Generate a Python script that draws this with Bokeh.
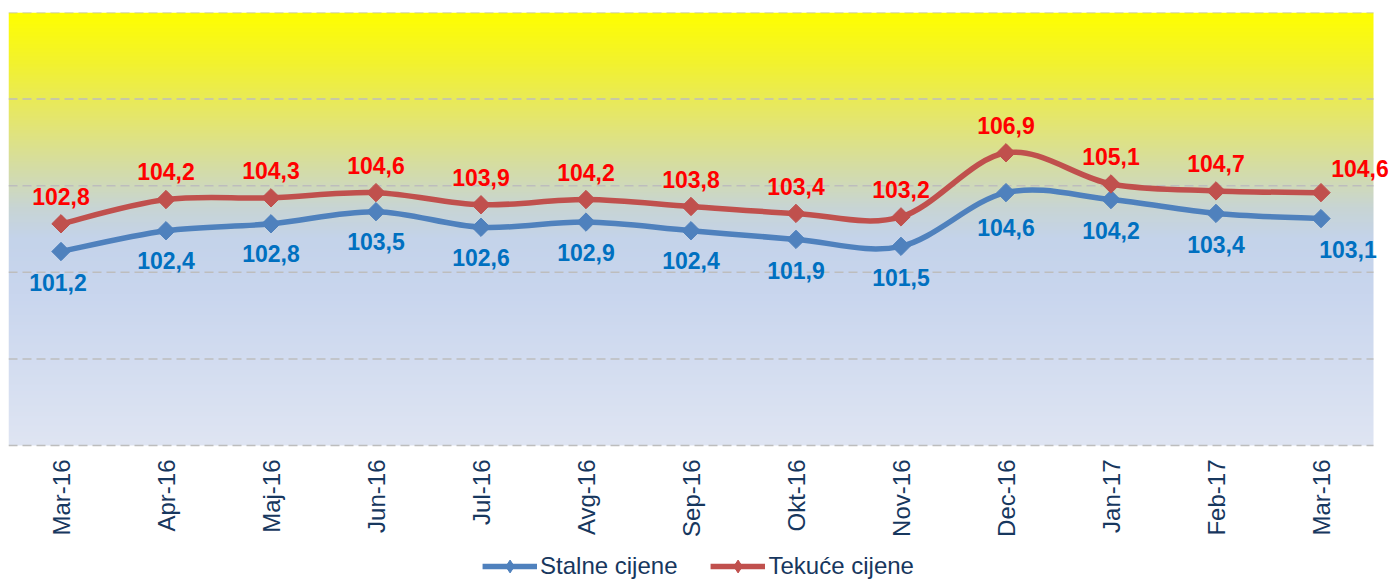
import numpy as np
from bokeh.plotting import figure
from bokeh.models import (ColumnDataSource, LabelSet, Legend, LegendItem,
                          FixedTicker, Range1d)
from bokeh.core.properties import value
from bokeh.embed import file_html
from bokeh.resources import INLINE

# ---------------- data ----------------
months = ["Mar-16", "Apr-16", "Maj-16", "Jun-16", "Jul-16", "Avg-16", "Sep-16",
          "Okt-16", "Nov-16", "Dec-16", "Jan-17", "Feb-17", "Mar-16"]
stalne = [101.2, 102.4, 102.8, 103.5, 102.6, 102.9, 102.4, 101.9, 101.5,
          104.6, 104.2, 103.4, 103.1]
tekuce = [102.8, 104.2, 104.3, 104.6, 103.9, 104.2, 103.8, 103.4, 103.2,
          106.9, 105.1, 104.7, 104.6]
y_ticks = [90, 95, 100, 105, 110, 115]

# ---------------- style ----------------
FONT = "Liberation Sans"
BLUE = "#4F81BD"
RED = "#C0504D"
BLUE_TXT = "#0070C0"
RED_TXT = "#FF0000"
NAVY = "#17375E"

xs = np.arange(len(months), dtype=float)
n_cat = len(months)
y_lo, y_hi = min(y_ticks), max(y_ticks)

# layout in pixels
band_px = 105.0          # width of one category band
plot_px = 433.0          # height of the shaded plot area
below_px = 137.0         # room for month labels and legend under it
frame_w = 1380

p = figure(width=1390, height=582,
           x_range=Range1d(-0.5, -0.5 + frame_w / band_px),
           y_range=Range1d(y_lo - below_px * (y_hi - y_lo) / plot_px, y_hi),
           output_backend="svg", toolbar_location=None,
           y_axis_location=None,
           min_border_left=8, min_border_right=2, min_border_top=12,
           min_border_bottom=0)
p.outline_line_color = None
p.background_fill_color = "white"
p.border_fill_color = "white"

# gradient background
stops = [(0.00, (255, 255, 0)), (0.12, (242, 242, 48)), (0.25, (228, 230, 112)),
         (0.38, (210, 219, 176)), (0.45, (200, 213, 212)), (0.52, (196, 211, 234)),
         (0.65, (201, 214, 238)), (1.00, (223, 229, 243))]
N = int(plot_px)
t = 1.0 - (np.arange(N) + 0.5) / N  # row 0 is bottom
ts = [s[0] for s in stops]
img = np.zeros((N, 1), dtype=np.uint32)
view = img.view(dtype=np.uint8).reshape((N, 1, 4))
for c in range(3):
    view[:, 0, c] = np.interp(t, ts, [s[1][c] for s in stops]).astype(np.uint8)
view[:, 0, 3] = 255
bg = p.image_rgba(image=[img], x=-0.5, y=y_lo, dw=n_cat, dh=y_hi - y_lo)
bg.level = "image"

# grid (drawn as segments limited to the category span)
p.xgrid.grid_line_color = None
p.ygrid.grid_line_color = None
grid = p.segment(x0=[-0.5] * len(y_ticks), x1=[n_cat - 0.5] * len(y_ticks),
                 y0=y_ticks, y1=y_ticks, line_color="#BDBDBD",
                 line_dash="9 5", line_width=1.5)
grid.level = "underlay"

# x axis, pinned to the bottom of the shaded area
xa = p.xaxis[0]
xa.fixed_location = y_lo
xa.ticker = FixedTicker(ticks=list(range(n_cat)))
xa.major_label_overrides = {i: m for i, m in enumerate(months)}
xa.major_label_orientation = np.pi / 2
xa.axis_line_color = None
xa.major_tick_line_color = None
xa.minor_tick_line_color = None
xa.major_tick_out = 0
xa.major_tick_in = 0
xa.major_label_text_font = FONT
xa.major_label_text_font_size = "24px"
xa.major_label_text_color = NAVY
xa.major_label_standoff = 14


def smooth(xv, yv):
    P = np.column_stack([xv, yv])
    n = len(P)
    seg = {k: [] for k in ["x0", "y0", "x1", "y1", "cx0", "cy0", "cx1", "cy1"]}
    for i in range(n - 1):
        p0 = P[i - 1] if i > 0 else P[i]
        p1 = P[i]
        p2 = P[i + 1]
        p3 = P[i + 2] if i + 2 < n else P[i + 1]
        c1 = p1 + (p2 - p0) / 6.0
        c2 = p2 - (p3 - p1) / 6.0
        seg["x0"].append(p1[0]); seg["y0"].append(p1[1])
        seg["x1"].append(p2[0]); seg["y1"].append(p2[1])
        seg["cx0"].append(c1[0]); seg["cy0"].append(c1[1])
        seg["cx1"].append(c2[0]); seg["cy1"].append(c2[1])
    return ColumnDataSource(seg)


def fmt(v):
    return f"{v:.1f}".replace(".", ",")


for series, color in [(stalne, BLUE), (tekuce, RED)]:
    p.bezier(x0="x0", y0="y0", x1="x1", y1="y1", cx0="cx0", cy0="cy0",
             cx1="cx1", cy1="cy1", source=smooth(xs, np.array(series)),
             line_color=color, line_width=5.5, line_cap="round")
    p.scatter(xs, series, marker="square", angle=np.pi / 4, size=13,
              fill_color=color, line_color=color)

# data labels
blue_xo = [-3, 0, 0, 0, 0, 0, 0, 0, 0, 0, 0, 0, 27]
blue_yo = [-31, -30, -30, -30, -30, -30, -30, -31, -31, -35, -31, -31, -31]
red_xo = [0, 0, 0, 0, 0, 0, 0, 0, 0, 0, 0, 0, 39]
red_yo = [27, 28, 27, 27, 27, 27, 27, 27, 27, 27, 27, 27, 24]

for series, xo, yo, col in [(stalne, blue_xo, blue_yo, BLUE_TXT),
                            (tekuce, red_xo, red_yo, RED_TXT)]:
    src = ColumnDataSource(dict(x=xs, y=series, text=[fmt(v) for v in series],
                                xo=xo, yo=yo))
    p.add_layout(LabelSet(x="x", y="y", text="text", x_offset="xo", y_offset="yo",
                          source=src, text_align="center", text_baseline="middle",
                          text_font=value(FONT), text_font_size="23px",
                          text_font_style="bold", text_color=col))

# legend (dummy renderers)
nan = [np.nan]
lb = p.line(nan, nan, line_color=BLUE, line_width=5.5)
mb = p.scatter(nan, nan, marker="diamond", size=16,
               fill_color=BLUE, line_color=BLUE)
lr = p.line(nan, nan, line_color=RED, line_width=5.5)
mr = p.scatter(nan, nan, marker="diamond", size=16,
               fill_color=RED, line_color=RED)
legend = Legend(items=[LegendItem(label="Stalne cijene", renderers=[lb, mb]),
                       LegendItem(label="Tekuće cijene", renderers=[lr, mr])],
                orientation="horizontal", location="bottom_center",
                border_line_color=None, background_fill_alpha=0,
                label_text_font=FONT, label_text_font_size="24px",
                label_text_color=NAVY, glyph_width=55, glyph_height=32,
                label_standoff=3, spacing=33, padding=0, margin=0,
                label_height=28)
p.add_layout(legend, "center")

open("out.html", "w").write(file_html(p, INLINE))
